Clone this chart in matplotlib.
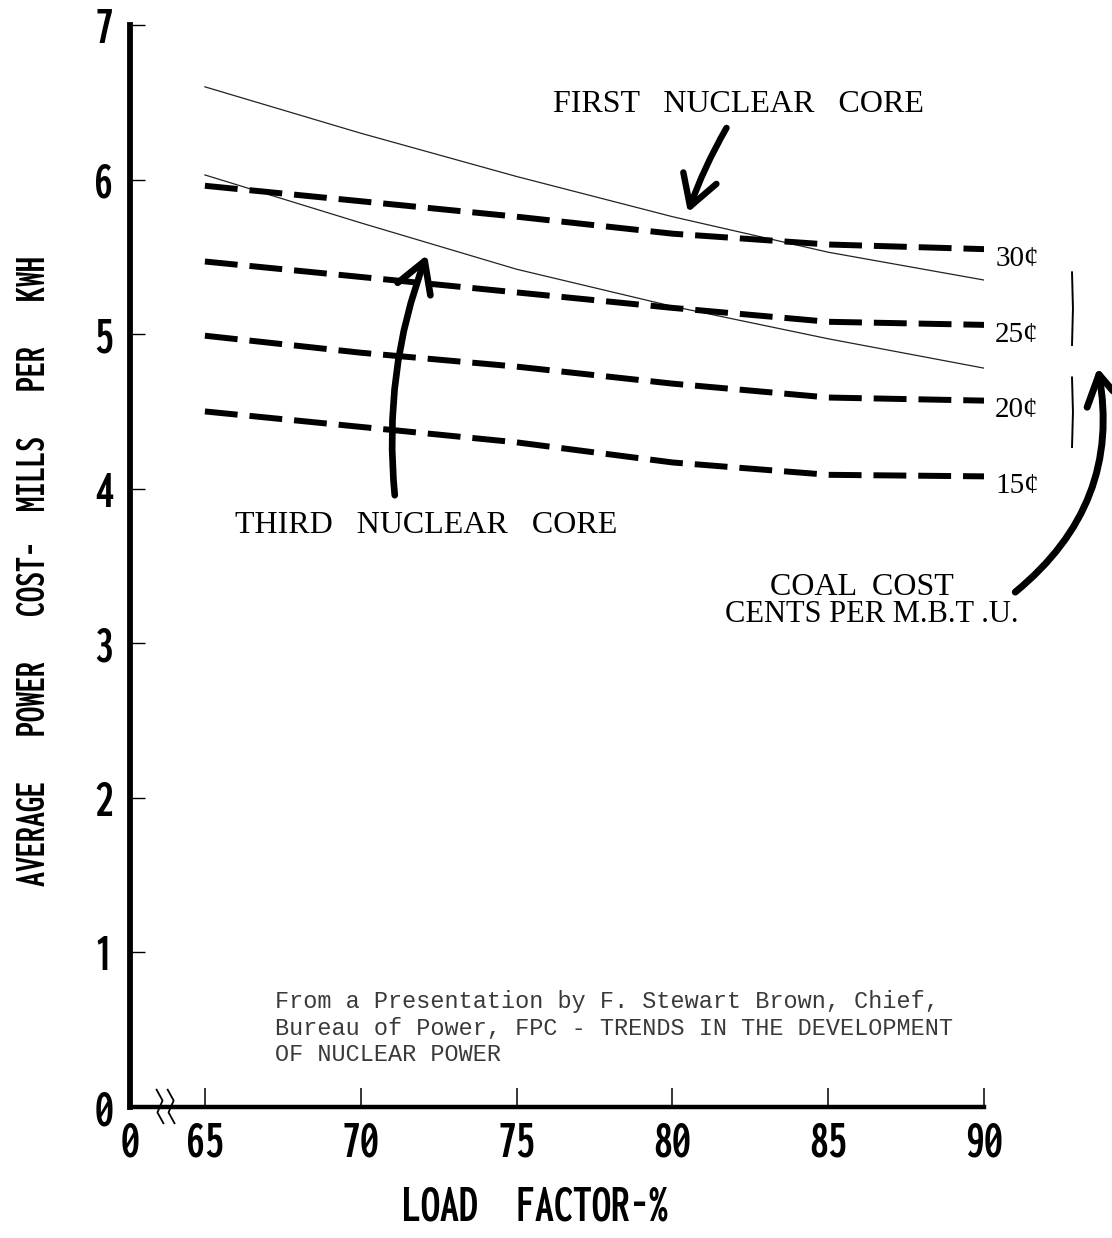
import matplotlib
matplotlib.use("Agg")
import matplotlib.pyplot as plt
from matplotlib import font_manager
from matplotlib.font_manager import FontProperties
from matplotlib.patches import FancyArrowPatch

# Average power cost vs load factor, nuclear cores against coal cost
load_factor = [65, 70, 75, 80, 85, 90]
first_core = [6.60, 6.30, 6.02, 5.76, 5.53, 5.35]
third_core = [6.03, 5.72, 5.42, 5.18, 4.97, 4.78]
coal_cents = ["30¢", "25¢", "20¢", "15¢"]
coal_costs = [
    [5.96, 5.86, 5.76, 5.65, 5.58, 5.55],
    [5.47, 5.37, 5.27, 5.17, 5.08, 5.06],
    [4.99, 4.88, 4.79, 4.68, 4.59, 4.57],
    [4.50, 4.40, 4.30, 4.17, 4.09, 4.08],
]
x_ticks = [65, 70, 75, 80, 85, 90]
y_ticks = [0, 1, 2, 3, 4, 5, 6, 7]
axis_break = 62.6   # where the "0" sits on the broken load factor axis

source = ("From a Presentation by F. Stewart Brown, Chief,\n"
          "Bureau of Power, FPC - TRENDS IN THE DEVELOPMENT\n"
          "OF NUCLEAR POWER")


def pick_condensed():
    faces = [f.fname for f in font_manager.fontManager.ttflist]
    for key in ["ExtraCondensedBold.", "CondensedBold.", "Condensed-Bold.",
                "NarrowBold.", "Narrow-Bold.", "SemiCondensedBold."]:
        for fn in faces:
            if fn.endswith(key + "ttf") or fn.endswith(key + "otf"):
                return fn
    return None


cond_file = pick_condensed()


def cond(size):
    if cond_file:
        return FontProperties(fname=cond_file, size=size)
    return FontProperties(family="DejaVu Sans", weight="bold", size=size)


serif = "Liberation Serif"

fig = plt.figure(figsize=(11.12, 12.38), dpi=100)
ax = fig.add_axes([0.117, 0.1058, 0.768, 0.874])

ax.plot(load_factor, first_core, color="#222222", lw=0.9)
ax.plot(load_factor, third_core, color="#222222", lw=0.9)
for label, cost in zip(coal_cents, coal_costs):
    ax.plot(load_factor, cost, color="black", lw=4.3,
            dashes=(5.5, 2.0), solid_capstyle="butt", dash_capstyle="butt")
    ax.annotate(label, (load_factor[-1], cost[-1]), xytext=(8, -12),
                textcoords="offset points", va="baseline", ha="left",
                fontsize=21, family=serif, annotation_clip=False)

ax.set_xlim(axis_break, 90)
ax.set_ylim(0, 7)
ax.set_xticks([axis_break] + x_ticks)
ax.set_xticklabels(["0"] + [str(t) for t in x_ticks])
ax.set_yticks(y_ticks)
ax.set_yticklabels([str(t) for t in y_ticks])
for lbl in ax.get_xticklabels() + ax.get_yticklabels():
    lbl.set_fontproperties(cond(39))

ax.spines["top"].set_visible(False)
ax.spines["right"].set_visible(False)
ax.spines["left"].set_linewidth(4.2)
ax.spines["bottom"].set_linewidth(3.2)
ax.tick_params(axis="y", direction="in", length=11, width=1, pad=12)
ax.tick_params(axis="x", direction="in", length=14, width=1.1, pad=10)
ax.xaxis.get_major_ticks()[0].tick1line.set_visible(False)

ax.set_xlabel("LOAD  FACTOR-%", fontproperties=cond(39))
ax.xaxis.set_label_coords(0.474, -0.072)
ax.set_ylabel("AVERAGE   POWER   COST-  MILLS   PER   KWH",
              fontproperties=cond(31))
ax.yaxis.set_label_coords(-0.092, 0.495)

# squiggle marking the break in the load factor scale
for bx in (0.035, 0.048):
    ax.plot([bx - 0.004, bx + 0.003, bx - 0.003, bx + 0.004],
            [0.016, 0.006, -0.005, -0.015], transform=ax.transAxes,
            color="black", lw=1.3, clip_on=False)

# curve labels
ax.text(82.12, 6.436, "FIRST   NUCLEAR   CORE", family=serif, fontsize=23,
        ha="center", va="baseline")
ax.text(72.11, 3.713, "THIRD   NUCLEAR   CORE", family=serif, fontsize=23,
        ha="center", va="baseline")
ax.text(86.08, 3.312, "COAL  COST", family=serif, fontsize=23,
        ha="center", va="baseline")
ax.text(86.41, 3.137, "CENTS PER M.B.T .U.", family=serif, fontsize=22,
        ha="center", va="baseline")

arrows = [
    ((81.78, 6.35), (80.47, 5.77), 0.05, 4.6),
    ((71.10, 3.94), (72.16, 5.53), -0.12, 4.8),
    ((90.93, 3.32), (93.63, 4.80), 0.30, 5.0),
]
for tail, head, rad, lw in arrows:
    ax.add_patch(FancyArrowPatch(
        tail, head, arrowstyle="->,head_length=0.6,head_width=0.35",
        mutation_scale=36, connectionstyle=f"arc3,rad={rad}",
        color="black", lw=lw, clip_on=False))

# brackets grouping the coal cost lines
for y0, y1 in [(5.40, 4.93), (4.72, 4.27)]:
    ax.plot([92.82, 92.85, 92.82], [y0, (y0 + y1) / 2, y1],
            color="black", lw=1.4, clip_on=False)

ax.text(0.170, 0.108, source, transform=ax.transAxes, family="Liberation Mono",
        fontsize=16.9, color="#3a3a3a", va="top", ha="left", linespacing=1.2)

fig.savefig("out.png", dpi=100)
